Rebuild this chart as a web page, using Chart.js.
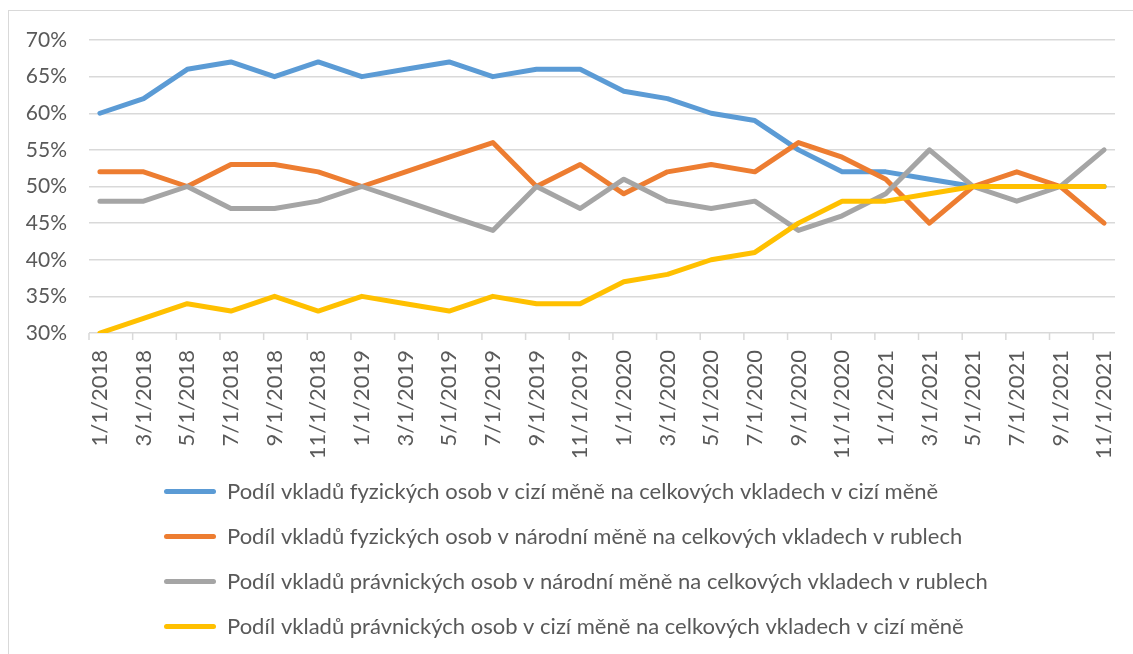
<!DOCTYPE html>
<html>
<head>
<meta charset="utf-8">
<script src="https://cdn.jsdelivr.net/npm/chart.js@4.4.0/dist/chart.umd.min.js"></script>
<style>
html,body{margin:0;padding:0;background:#fff;overflow:hidden}
#wrap{position:relative;width:1133px;height:654px;overflow:hidden}
#frame{position:absolute;left:8px;top:10px;width:1140px;height:660px;border:1.5px solid #d9d9d9;box-sizing:border-box}
canvas{position:absolute;left:0;top:0}
</style>
</head>
<body>
<div id="wrap"><div id="frame"></div><canvas id="c" width="1133" height="654"></canvas></div>
<script>
const categories = ['1/1/2018','3/1/2018','5/1/2018','7/1/2018','9/1/2018','11/1/2018',
  '1/1/2019','3/1/2019','5/1/2019','7/1/2019','9/1/2019','11/1/2019',
  '1/1/2020','3/1/2020','5/1/2020','7/1/2020','9/1/2020','11/1/2020',
  '1/1/2021','3/1/2021','5/1/2021','7/1/2021','9/1/2021','11/1/2021'];
const fyzCizi     = [60,62,66,67,65,67,65,66,67,65,66,66,63,62,60,59,55,52,52,51,50,50,50,50];
const fyzNarodni  = [52,52,50,53,53,52,50,52,54,56,50,53,49,52,53,52,56,54,51,45,50,52,50,45];
const pravNarodni = [48,48,50,47,47,48,50,48,46,44,50,47,51,48,47,48,44,46,49,55,50,48,50,55];
const pravCizi    = [30,32,34,33,35,33,35,34,33,35,34,34,37,38,40,41,45,48,48,49,50,50,50,50];
const seriesLabels = [
  'Podíl vkladů fyzických osob v cizí měně na celkových vkladech v cizí měně',
  'Podíl vkladů fyzických osob v národní měně na celkových vkladech v rublech',
  'Podíl vkladů právnických osob v národní měně na celkových vkladech v rublech',
  'Podíl vkladů právnických osob v cizí měně na celkových vkladech v cizí měně'
];
const yTicks = [30,35,40,45,50,55,60,65,70];

const FONT = 'Lato';
const FS = 22;
const TXT = '#595959';
const GRID = '#d9d9d9';
const PADL = 10;

const colors = ['#5B9BD5','#ED7D31','#A5A5A5','#FFC000'];
const allSeries = [fyzCizi, fyzNarodni, pravNarodni, pravCizi];

const datasets = allSeries.map((s, k) => ({
  label: seriesLabels[k],
  data: s.map((v, i) => ({x: i, y: v})),
  borderColor: colors[k],
  backgroundColor: colors[k],
  borderWidth: 5,
  pointRadius: 0,
  tension: 0,
  fill: false,
  borderCapStyle: 'round',
  borderJoinStyle: 'round',
  order: 3 - k
}));

const tickMarks = {
  id: 'tickMarks',
  beforeDatasetsDraw(chart) {
    const {ctx, scales: {x, y}} = chart;
    const y0 = y.getPixelForValue(yTicks[0]);
    ctx.save();
    ctx.strokeStyle = GRID;
    ctx.lineWidth = 1.5;
    categories.forEach((c, i) => {
      const px = x.getPixelForValue(i - 0.25);
      ctx.beginPath();
      ctx.moveTo(px, y0);
      ctx.lineTo(px, y0 + 7);
      ctx.stroke();
    });
    ctx.restore();
  }
};

const legendPlace = {
  id: 'legendPlace',
  afterLayout(chart) {
    const lg = chart.legend;
    const shift = 141 - lg.left;
    lg.left += shift;
    lg.right += shift;
  }
};

new Chart(document.getElementById('c'), {
  type: 'line',
  data: { datasets },
  plugins: [tickMarks, legendPlace],
  options: {
    responsive: false,
    devicePixelRatio: 1,
    animation: false,
    layout: { padding: { left: PADL, right: 18, top: 40, bottom: 6.5 } },
    plugins: {
      tooltip: { enabled: false },
      legend: {
        position: 'bottom',
        align: 'start',
        labels: {
          boxWidth: 52,
          boxHeight: 5,
          padding: 23,
          color: TXT,
          font: { family: FONT, size: FS },
          generateLabels: (chart) => chart.data.datasets.map((ds, i) => ({
            text: ds.label,
            fillStyle: ds.borderColor,
            strokeStyle: ds.borderColor,
            lineWidth: 0,
            hidden: false,
            datasetIndex: i,
            borderRadius: 2.5,
            fontColor: TXT
          }))
        }
      }
    },
    scales: {
      x: {
        type: 'linear',
        min: -0.25,
        max: categories.length - 0.75,
        afterBuildTicks: (s) => { s.ticks = categories.map((c, i) => ({ value: i })); },
        afterFit: (s) => { s.height = 124.5; s.paddingLeft = 0; s.paddingRight = 0; },
        ticks: {
          autoSkip: false,
          maxRotation: 90,
          minRotation: 90,
          padding: 17,
          color: TXT,
          font: { family: FONT, size: FS },
          callback: (v) => categories[v]
        },
        grid: { display: false, drawTicks: false },
        border: { display: false }
      },
      y: {
        min: yTicks[0],
        max: yTicks[yTicks.length - 1],
        afterBuildTicks: (s) => { s.ticks = yTicks.map(v => ({ value: v })); },
        afterFit: (s) => { s.width = 89 - PADL; s.paddingTop = 0; s.paddingBottom = 0; },
        ticks: {
          padding: 22,
          color: TXT,
          font: { family: FONT, size: 21 },
          callback: (v) => v + '%'
        },
        grid: { color: GRID, lineWidth: 1.5, drawTicks: false },
        border: { display: false }
      }
    }
  }
});
</script>
</body>
</html>
